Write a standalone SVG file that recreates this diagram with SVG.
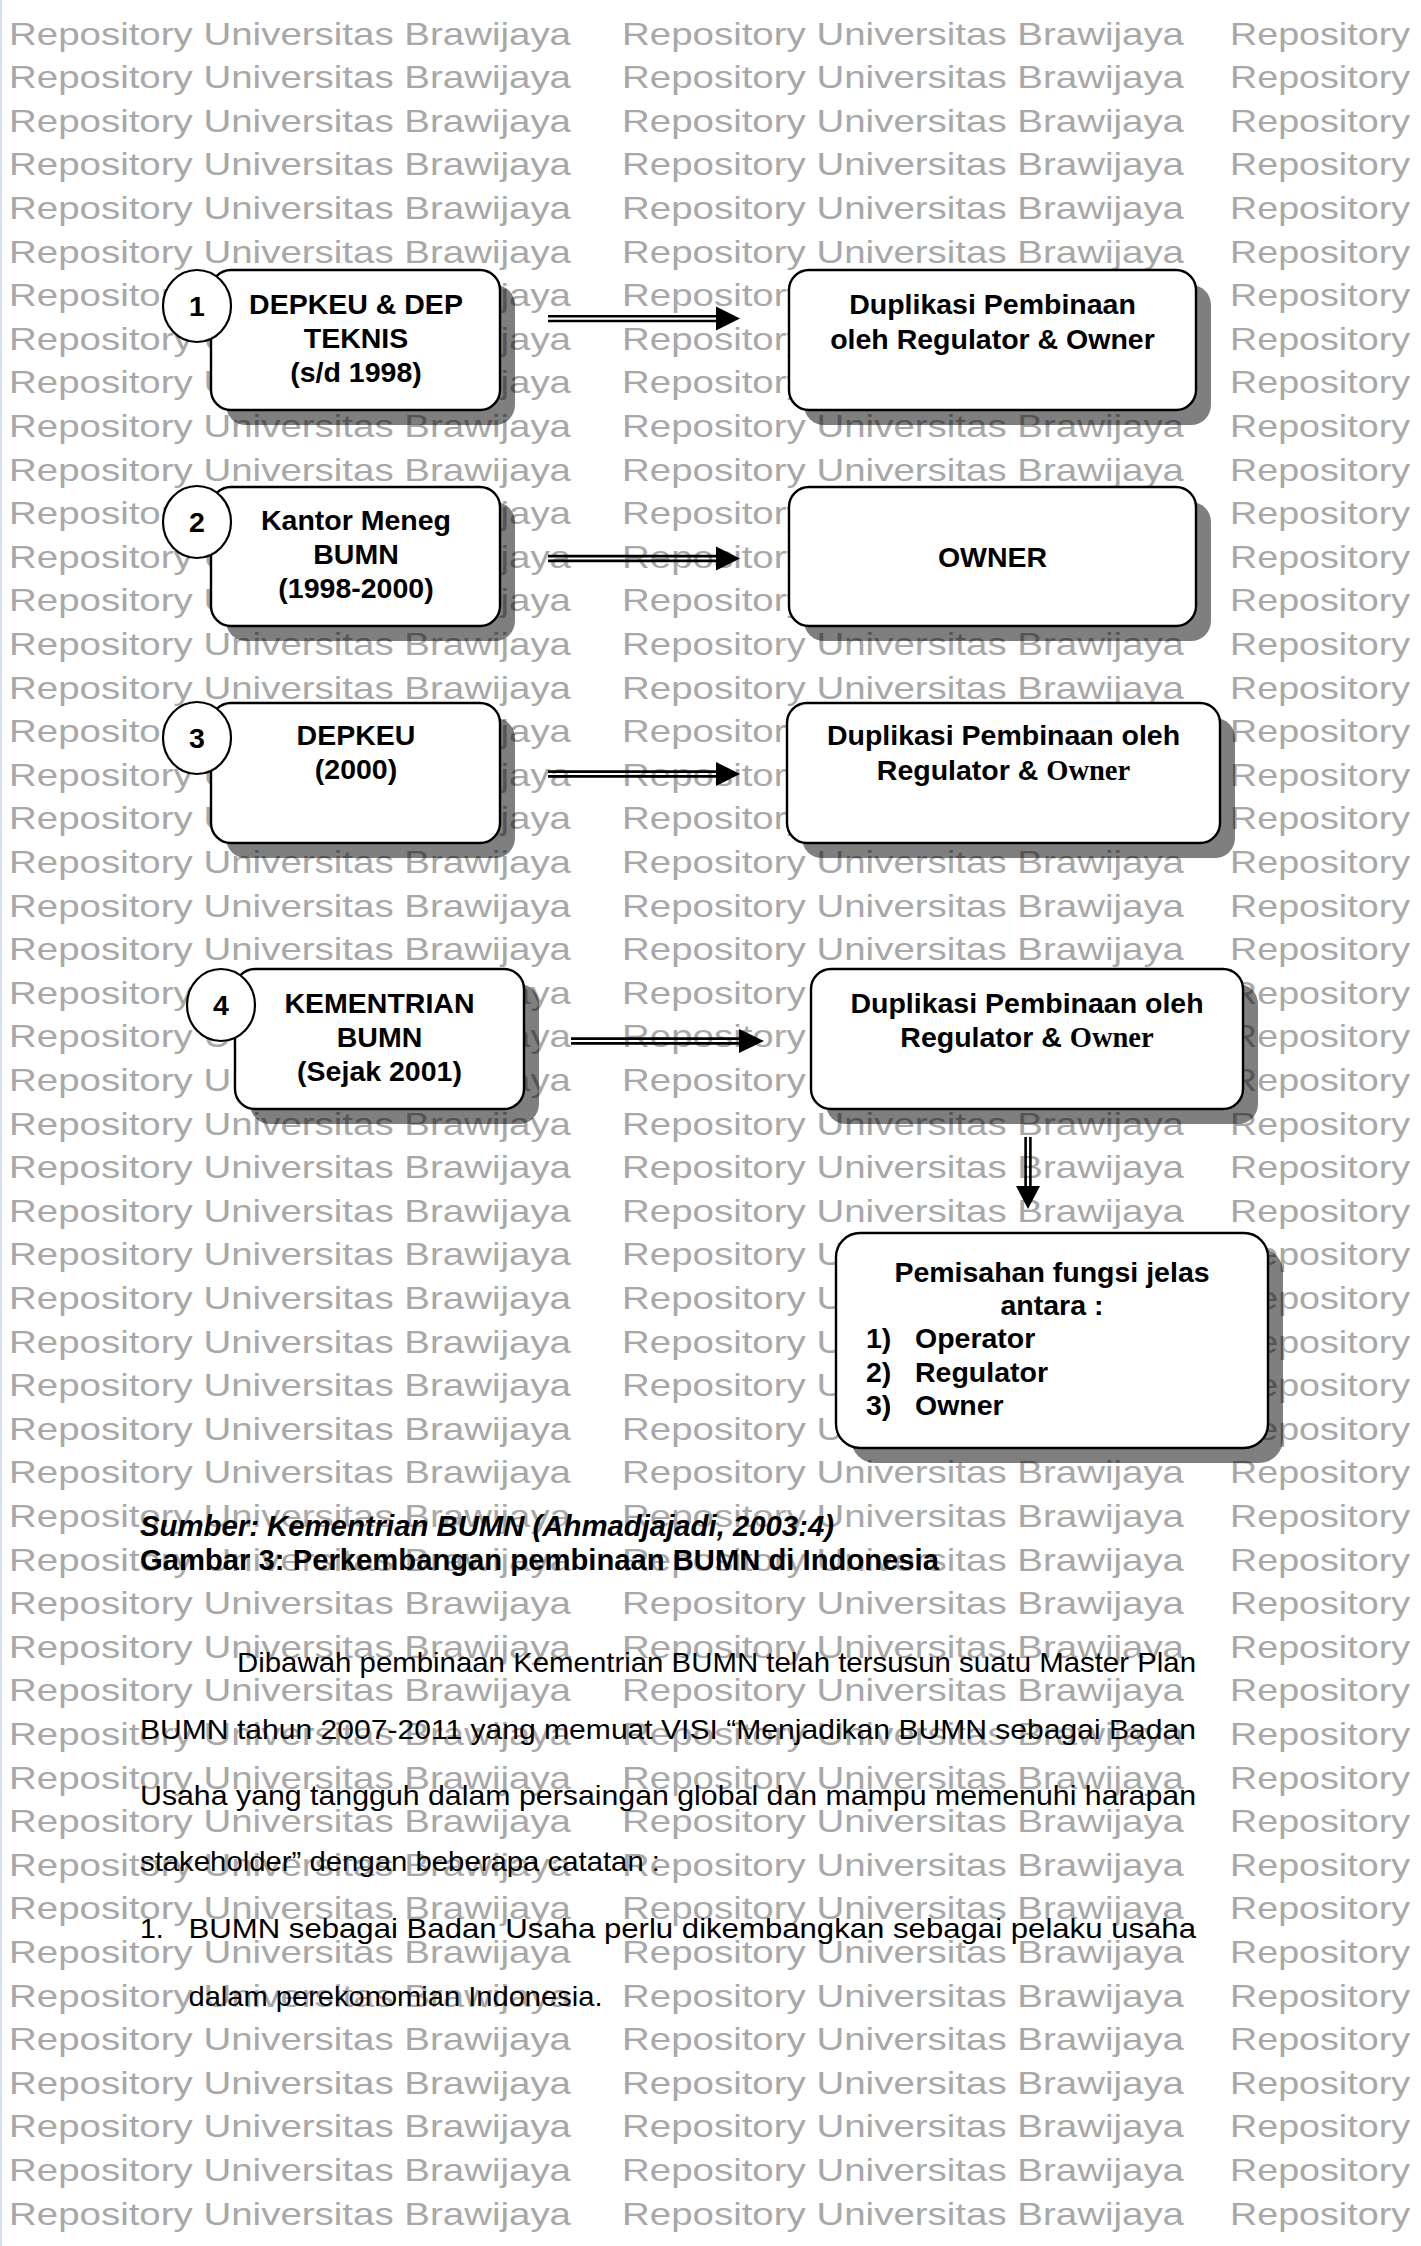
<svg xmlns="http://www.w3.org/2000/svg" xmlns:xlink="http://www.w3.org/1999/xlink" width="1421" height="2246" viewBox="0 0 1421 2246">
  <style>
    .wm{font-family:"Liberation Sans",Arial,sans-serif;font-size:32px;fill:#a8a8a8}
    .shadow{fill:#000;fill-opacity:0.5}
    .box{fill:#fff;stroke:#000;stroke-width:2.4}
    .num{fill:#fff;stroke:#000;stroke-width:2.2}
    .lbl{font-family:"Liberation Sans",Arial,sans-serif;font-weight:bold;font-size:28.5px;text-anchor:middle;fill:#000}
    .lft{text-anchor:start}
    .serif{font-family:"Liberation Serif","Times New Roman",serif}
    .shaft{stroke:#000;stroke-width:2.6;fill:none}
    .head{fill:#000}
    .cap{font-family:"Liberation Sans",Arial,sans-serif;font-weight:bold;font-size:29px;fill:#000}
    .body{font-family:"Liberation Sans",Arial,sans-serif;font-size:28.5px;fill:#000}
  </style>
  <defs>
    <g id="wm-row">
      <text class="wm" x="9" y="0" textLength="562" lengthAdjust="spacingAndGlyphs">Repository Universitas Brawijaya</text>
      <text class="wm" x="622" y="0" textLength="562" lengthAdjust="spacingAndGlyphs">Repository Universitas Brawijaya</text>
      <text class="wm" x="1230" y="0" textLength="180" lengthAdjust="spacingAndGlyphs">Repository</text>
    </g>
  </defs>

  <rect x="0" y="0" width="1421" height="2246" fill="#fff"/>
  <line x1="1" y1="0" x2="1" y2="2246" stroke="#c4d4ee" stroke-width="1.5"/>

  <!-- background watermark rows -->
  <g id="watermark">
    <use xlink:href="#wm-row" y="44.5"/>
    <use xlink:href="#wm-row" y="88.1"/>
    <use xlink:href="#wm-row" y="131.7"/>
    <use xlink:href="#wm-row" y="175.3"/>
    <use xlink:href="#wm-row" y="218.9"/>
    <use xlink:href="#wm-row" y="262.5"/>
    <use xlink:href="#wm-row" y="306.1"/>
    <use xlink:href="#wm-row" y="349.7"/>
    <use xlink:href="#wm-row" y="393.3"/>
    <use xlink:href="#wm-row" y="436.9"/>
    <use xlink:href="#wm-row" y="480.5"/>
    <use xlink:href="#wm-row" y="524.1"/>
    <use xlink:href="#wm-row" y="567.7"/>
    <use xlink:href="#wm-row" y="611.3"/>
    <use xlink:href="#wm-row" y="654.9"/>
    <use xlink:href="#wm-row" y="698.5"/>
    <use xlink:href="#wm-row" y="742.1"/>
    <use xlink:href="#wm-row" y="785.7"/>
    <use xlink:href="#wm-row" y="829.3"/>
    <use xlink:href="#wm-row" y="872.9"/>
    <use xlink:href="#wm-row" y="916.5"/>
    <use xlink:href="#wm-row" y="960.1"/>
    <use xlink:href="#wm-row" y="1003.7"/>
    <use xlink:href="#wm-row" y="1047.3"/>
    <use xlink:href="#wm-row" y="1090.9"/>
    <use xlink:href="#wm-row" y="1134.5"/>
    <use xlink:href="#wm-row" y="1178.1"/>
    <use xlink:href="#wm-row" y="1221.7"/>
    <use xlink:href="#wm-row" y="1265.3"/>
    <use xlink:href="#wm-row" y="1308.9"/>
    <use xlink:href="#wm-row" y="1352.5"/>
    <use xlink:href="#wm-row" y="1396.1"/>
    <use xlink:href="#wm-row" y="1439.7"/>
    <use xlink:href="#wm-row" y="1483.3"/>
    <use xlink:href="#wm-row" y="1526.9"/>
    <use xlink:href="#wm-row" y="1570.5"/>
    <use xlink:href="#wm-row" y="1614.1"/>
    <use xlink:href="#wm-row" y="1657.7"/>
    <use xlink:href="#wm-row" y="1701.3"/>
    <use xlink:href="#wm-row" y="1744.9"/>
    <use xlink:href="#wm-row" y="1788.5"/>
    <use xlink:href="#wm-row" y="1832.1"/>
    <use xlink:href="#wm-row" y="1875.7"/>
    <use xlink:href="#wm-row" y="1919.3"/>
    <use xlink:href="#wm-row" y="1962.9"/>
    <use xlink:href="#wm-row" y="2006.5"/>
    <use xlink:href="#wm-row" y="2050.1"/>
    <use xlink:href="#wm-row" y="2093.7"/>
    <use xlink:href="#wm-row" y="2137.3"/>
    <use xlink:href="#wm-row" y="2180.9"/>
    <use xlink:href="#wm-row" y="2224.5"/>
  </g>

  <!-- left column: stages -->
  <g id="stage-1">
    <rect class="shadow" x="226" y="285" width="289" height="140" rx="20"/>
    <rect class="box" x="211" y="270" width="289" height="140" rx="20"/>
    <ellipse class="num" cx="197" cy="306" rx="34" ry="36"/>
    <text class="lbl" x="197" y="316">1</text>
    <text class="lbl" x="356" y="314">DEPKEU &amp; DEP</text>
    <text class="lbl" x="356" y="348">TEKNIS</text>
    <text class="lbl" x="356" y="382">(s/d 1998)</text>
  </g>
  <g id="stage-2">
    <rect class="shadow" x="226" y="502" width="289" height="139" rx="20"/>
    <rect class="box" x="211" y="487" width="289" height="139" rx="20"/>
    <ellipse class="num" cx="197" cy="522" rx="34" ry="36"/>
    <text class="lbl" x="197" y="532">2</text>
    <text class="lbl" x="356" y="530">Kantor Meneg</text>
    <text class="lbl" x="356" y="564">BUMN</text>
    <text class="lbl" x="356" y="598">(1998-2000)</text>
  </g>
  <g id="stage-3">
    <rect class="shadow" x="226" y="718" width="289" height="140" rx="20"/>
    <rect class="box" x="211" y="703" width="289" height="140" rx="20"/>
    <ellipse class="num" cx="197" cy="738" rx="34" ry="36"/>
    <text class="lbl" x="197" y="748">3</text>
    <text class="lbl" x="356" y="745">DEPKEU</text>
    <text class="lbl" x="356" y="779">(2000)</text>
  </g>
  <g id="stage-4">
    <rect class="shadow" x="250" y="984" width="289" height="140" rx="20"/>
    <rect class="box" x="235" y="969" width="289" height="140" rx="20"/>
    <ellipse class="num" cx="221" cy="1005" rx="34" ry="36"/>
    <text class="lbl" x="221" y="1015">4</text>
    <text class="lbl" x="379.5" y="1013">KEMENTRIAN</text>
    <text class="lbl" x="379.5" y="1047">BUMN</text>
    <text class="lbl" x="379.5" y="1081">(Sejak 2001)</text>
  </g>

  <!-- right column: outcomes -->
  <g id="outcome-1">
    <rect class="shadow" x="804" y="285" width="407" height="140" rx="20"/>
    <rect class="box" x="789" y="270" width="407" height="140" rx="20"/>
    <text class="lbl" x="992.5" y="314">Duplikasi Pembinaan</text>
    <text class="lbl" x="992.5" y="349">oleh Regulator &amp; Owner</text>
  </g>
  <g id="outcome-2">
    <rect class="shadow" x="804" y="502" width="407" height="139" rx="20"/>
    <rect class="box" x="789" y="487" width="407" height="139" rx="20"/>
    <text class="lbl" x="992.5" y="567">OWNER</text>
  </g>
  <g id="outcome-3">
    <rect class="shadow" x="802" y="718" width="433" height="140" rx="20"/>
    <rect class="box" x="787" y="703" width="433" height="140" rx="20"/>
    <text class="lbl" x="1003.5" y="745">Duplikasi Pembinaan oleh</text>
    <text class="lbl" x="1003.5" y="780">Regulator &amp; <tspan class="serif">Owner</tspan></text>
  </g>
  <g id="outcome-4">
    <rect class="shadow" x="826" y="984" width="432" height="140" rx="20"/>
    <rect class="box" x="811" y="969" width="432" height="140" rx="20"/>
    <text class="lbl" x="1027" y="1013">Duplikasi Pembinaan oleh</text>
    <text class="lbl" x="1027" y="1047">Regulator &amp; <tspan class="serif">Owner</tspan></text>
  </g>
  <g id="separation">
    <rect class="shadow" x="851" y="1248" width="432" height="215" rx="24"/>
    <rect class="box" x="836" y="1233" width="432" height="215" rx="24"/>
    <text class="lbl" x="1052" y="1282">Pemisahan fungsi jelas</text>
    <text class="lbl" x="1052" y="1315">antara :</text>
    <text class="lbl lft" x="866" y="1348">1)</text>
    <text class="lbl lft" x="915" y="1348">Operator</text>
    <text class="lbl lft" x="866" y="1381.5">2)</text>
    <text class="lbl lft" x="915" y="1381.5">Regulator</text>
    <text class="lbl lft" x="866" y="1415">3)</text>
    <text class="lbl lft" x="915" y="1415">Owner</text>
  </g>

  <!-- double-line arrows -->
  <g id="connectors">
    <path class="shaft" d="M548 316.2H718M548 321H718"/>
    <polygon class="head" points="716,306.6 740,318.6 716,330.6"/>
    <path class="shaft" d="M548 556.1H718M548 560.9H718"/>
    <polygon class="head" points="716,546.5 740,558.5 716,570.5"/>
    <path class="shaft" d="M548 771.6H718M548 776.4H718"/>
    <polygon class="head" points="716,762 740,774 716,786"/>
    <path class="shaft" d="M571 1038.6H741M571 1043.4H741"/>
    <polygon class="head" points="739,1029 764,1041 739,1053"/>
    <path class="shaft" d="M1025.6 1137V1188M1030.4 1137V1188"/>
    <polygon class="head" points="1016,1186 1028,1209 1040,1186"/>
  </g>

  <!-- figure caption -->
  <g id="caption">
    <text class="cap" x="140" y="1536" font-style="italic" textLength="694" lengthAdjust="spacingAndGlyphs">Sumber: Kementrian BUMN (Ahmadjajadi, 2003:4)</text>
    <text class="cap" x="140" y="1570" textLength="799" lengthAdjust="spacingAndGlyphs">Gambar 3: Perkembangan pembinaan BUMN di Indonesia</text>
  </g>

  <!-- body paragraph -->
  <g id="body-text">
    <text class="body" x="237" y="1672" textLength="959" lengthAdjust="spacingAndGlyphs">Dibawah pembinaan Kementrian BUMN telah tersusun suatu Master Plan</text>
    <text class="body" x="140" y="1738.5" textLength="1056" lengthAdjust="spacingAndGlyphs">BUMN tahun 2007-2011 yang memuat VISI “Menjadikan BUMN sebagai Badan</text>
    <text class="body" x="140" y="1805" textLength="1056" lengthAdjust="spacingAndGlyphs">Usaha yang tangguh dalam persaingan global dan mampu memenuhi harapan</text>
    <text class="body" x="140" y="1871" textLength="520" lengthAdjust="spacingAndGlyphs">stakeholder” dengan beberapa catatan :</text>
    <text class="body" x="140" y="1938">1.</text>
    <text class="body" x="188.5" y="1938" textLength="1007.5" lengthAdjust="spacingAndGlyphs">BUMN sebagai Badan Usaha perlu dikembangkan sebagai pelaku usaha</text>
    <text class="body" x="188.5" y="2006" textLength="414" lengthAdjust="spacingAndGlyphs">dalam perekonomian Indonesia.</text>
  </g>
</svg>
